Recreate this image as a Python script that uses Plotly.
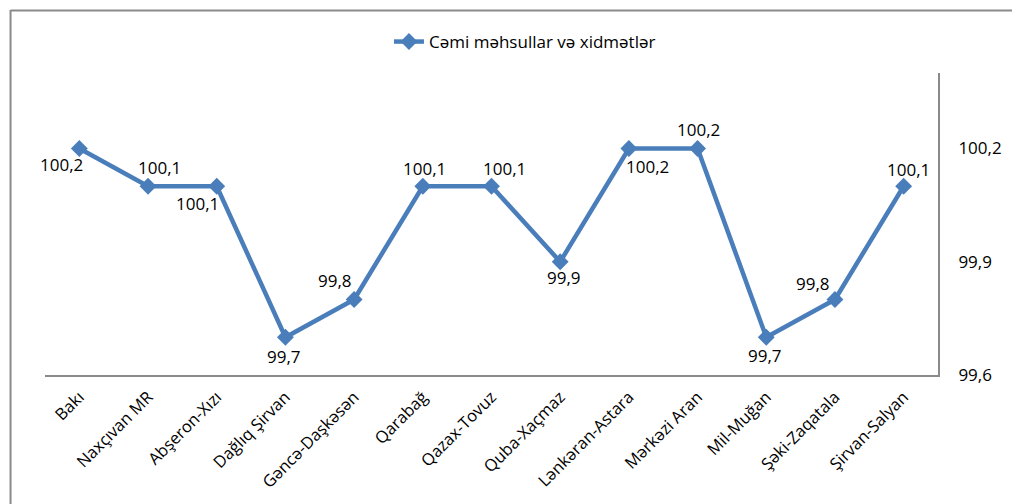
import plotly.graph_objects as go

categories = ["Bakı", "Naxçıvan MR", "Abşeron-Xızı", "Dağlıq Şirvan", "Gəncə-Daşkəsən",
              "Qarabağ", "Qazax-Tovuz", "Quba-Xaçmaz", "Lənkəran-Astara", "Mərkəzi Aran",
              "Mil-Muğan", "Şəki-Zaqatala", "Şirvan-Salyan"]
values = [100.2, 100.1, 100.1, 99.7, 99.8, 100.1, 100.1, 99.9, 100.2, 100.2, 99.7, 99.8, 100.1]
series_name = "Cəmi məhsullar və xidmətlər"
tick_vals = [99.6, 99.9, 100.2]

# label offsets (px) relative to each marker
label_dx = [-18, 11, -19, -1, -19, 2, 13, 4, 19, 1, -1, -22, 5]
label_dy = [-16, 19, -17, -19, 19, 18, 18, -16, -18, 19, -18, 16, 17]

color = "#4A7EBB"
font = "Open Sans"

OFF = 8  # page body margin offset
W, H = 1020 - OFF, 504 - OFF
ml, mr, mt, mb = 44.5 - OFF, 81.5, 73 - OFF, 129
pw, ph = W - ml - mr, H - mt - mb

fig = go.Figure()
fig.add_trace(go.Scatter(
    x=categories, y=values, mode="lines+markers", name=series_name,
    line=dict(color=color, width=4.5),
    marker=dict(symbol="diamond", size=13, color=color),
    hoverinfo="skip",
))

for c, v, dx, dy in zip(categories, values, label_dx, label_dy):
    fig.add_annotation(x=c, y=v, text=f"{v:.1f}".replace(".", ","), showarrow=False,
                       xshift=dx, yshift=dy, font=dict(family=font, size=17, color="#000000"))

def px_x(p):
    return (p - OFF - ml) / pw

def px_y(p):
    return (H - mb - (p - OFF)) / ph

border = dict(color="#8A8A8A", width=2)
fig.add_shape(type="line", xref="paper", yref="paper",
              x0=px_x(10), x1=px_x(1030), y0=px_y(10.5), y1=px_y(10.5), line=border)
fig.add_shape(type="line", xref="paper", yref="paper",
              x0=px_x(10), x1=px_x(10), y0=px_y(10), y1=px_y(515), line=border)

fig.update_layout(
    width=W, height=H,
    margin=dict(l=ml, r=mr, t=mt, b=mb, autoexpand=False),
    paper_bgcolor="white", plot_bgcolor="white",
    separators=", ",
    font=dict(family=font, size=17, color="#000000"),
    showlegend=True,
    legend=dict(orientation="h", x=px_x(525), y=px_y(42), xanchor="center", yanchor="middle",
                font=dict(family=font, size=17), bgcolor="rgba(0,0,0,0)"),
    xaxis=dict(showgrid=False, showline=True, linecolor="#8A8A8A", linewidth=2,
               range=[-0.5, len(categories) - 0.5],
               tickangle=-45, tickfont=dict(family=font, size=16.5), ticks="",
               zeroline=False, automargin=False, ticklabelstandoff=4),
    yaxis=dict(side="right", range=[99.6, 100.4], tickvals=tick_vals, tickformat=".1f",
               showgrid=False, showline=True, linecolor="#8A8A8A", linewidth=2,
               ticks="", ticklabelstandoff=15, zeroline=False, automargin=False,
               tickfont=dict(family=font, size=17)),
)

fig.write_html("out.html")
